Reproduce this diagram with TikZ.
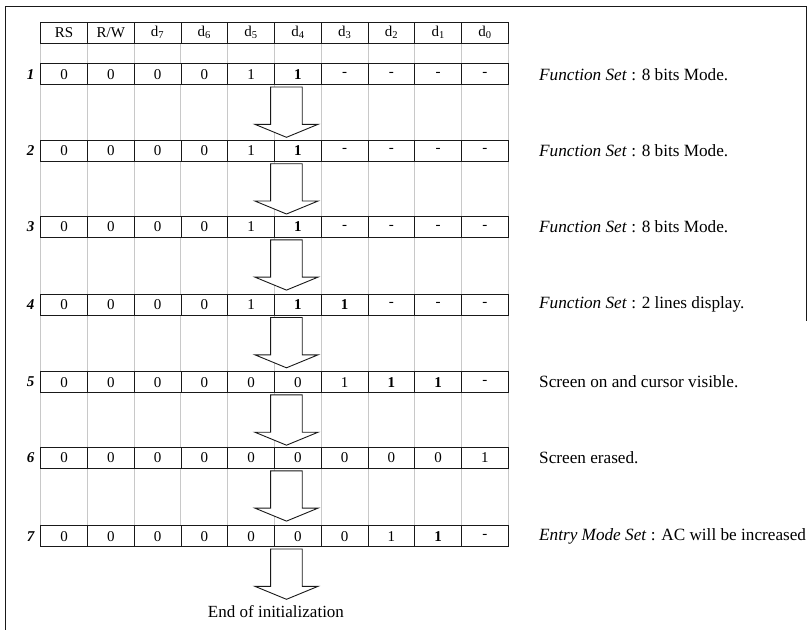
\documentclass[tikz,border=0pt]{standalone}
\usepackage{fontspec}
\setmainfont{Liberation Serif}
\usetikzlibrary{positioning,calc,backgrounds}
\definecolor{Tinta}{RGB}{25,25,25}
\definecolor{Rejilla}{RGB}{200,200,200}
\tikzset{
  bitcell/.style={draw=Tinta, line width=0.9pt, fill=white, minimum width=46.76pt,
    minimum height=21pt, inner sep=0pt, outer sep=0pt, font=\fontsize{15}{15}\selectfont},
  hdrcell/.style={bitcell},
  steplabel/.style={inner sep=0pt, font=\fontsize{15}{15}\selectfont\bfseries\itshape},
  notetext/.style={inner sep=0pt, anchor=west, font=\fontsize{17.2}{17.2}\selectfont},
  gridline/.style={draw=Rejilla, line width=1pt},
  frameline/.style={draw=Tinta, line width=1pt},
  % ---- flecha gruesa entre instrucciones ----
  pics/downarrow/.style={code={
    \draw[Tinta, line width=0.9pt, fill=white] (-15.8,0) -- (15.8,0) -- (15.8,-37.3)
      -- (31.6,-37.3) -- (0,-50.3) -- (-31.6,-37.3) -- (-15.8,-37.3) -- cycle;}},
}
\begin{document}
\begin{tikzpicture}[x=1pt, y=1pt]
  \useasboundingbox (0,0) rectangle (807,-630);
  \draw[frameline] (5,-630) |- (806,-6) -- (806,-321);
  \foreach \h [count=\c] in {RS,{R/W},d\textsubscript{7},d\textsubscript{6},d\textsubscript{5},d\textsubscript{4},d\textsubscript{3},d\textsubscript{2},d\textsubscript{1},d\textsubscript{0}}
    \node[hdrcell] (h\c) at ({40.7+46.76*(\c-0.5)},-32.5) {\h};
  \foreach \r/\yy/\vals/\nota in {
      1/74.2/{0,0,0,0,1,\textbf{1},-,-,-,-}/{\textit{Function Set} : 8 bits Mode.},
      2/150.9/{0,0,0,0,1,\textbf{1},-,-,-,-}/{\textit{Function Set} : 8 bits Mode.},
      3/227.0/{0,0,0,0,1,\textbf{1},-,-,-,-}/{\textit{Function Set} : 8 bits Mode.},
      4/304.7/{0,0,0,0,1,\textbf{1},\textbf{1},-,-,-}/{\textit{Function Set} : 2 lines display.},
      5/382.1/{0,0,0,0,0,0,1,\textbf{1},\textbf{1},-}/{Screen on and cursor visible.},
      6/458.0/{0,0,0,0,0,0,0,0,0,1}/{Screen erased.},
      7/536.2/{0,0,0,0,0,0,0,1,\textbf{1},-}/{\textit{Entry Mode Set} : AC will be increased}}{
    \foreach \v [count=\c] in \vals
      \node[bitcell] (r\r-\c) at ({40.7+46.76*(\c-0.5)},-\yy) {\v};
    \node[steplabel, left=6pt of r\r-1] (paso\r) {\r};
    \node[notetext, right=30.7pt of r\r-10] (nota\r) {\nota};
    \pic at ([xshift=-11.4pt, yshift=-2.3pt]r\r-6.south) {downarrow};
  }
  \begin{scope}[on background layer]
    \foreach \c in {1,...,10}
      \draw[gridline] (h\c.south west) -- (r7-\c.north west);
    \draw[gridline] (h10.south east) -- (r7-10.north east);
  \end{scope}
  \node[inner sep=0pt, font=\fontsize{17}{17}\selectfont] (fin) at ([xshift=-21.9pt, yshift=-65.3pt]r7-6.south) {End of initialization};
\end{tikzpicture}
\end{document}
